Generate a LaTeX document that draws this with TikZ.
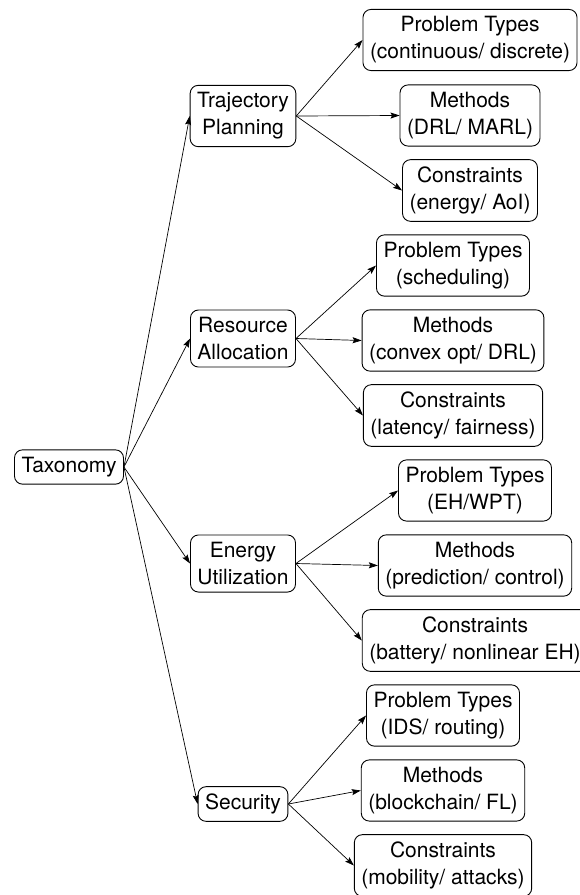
\documentclass[tikz,border=0pt]{standalone}
\usepackage{fontspec}
\setmainfont{TeX Gyre Heros}
\usetikzlibrary{arrows.meta}
\begin{document}
\begin{tikzpicture}[x=1pt,y=-1pt,
  box/.style={draw, rounded corners=8pt, line width=0.9pt, align=center,
    inner xsep=7pt, inner ysep=7.2pt, font=\fontsize{21}{27}\selectfont},
  link/.style={-{Stealth[length=9pt,width=6pt,inset=1.5pt]}, line width=0.7pt}]
\useasboundingbox (0,0) rectangle (580,895);

% root and first level
\node[box] (tax)  at (69,467)    {Taxonomy};
\node[box] (traj) at (243,116)   {Trajectory\\Planning};
\node[box] (res)  at (243,338.5) {Resource\\Allocation};
\node[box] (ene)  at (243,563.5) {Energy\\Utilization};
\node[box] (sec)  at (243,804)   {Security};

% trajectory planning
\node[box] (trajP) at (470,40)    {Problem Types\\(continuous/ discrete)};
\node[box] (trajM) at (470,115.5) {Methods\\(DRL/ MARL)};
\node[box] (trajC) at (470,190.5) {Constraints\\(energy/ AoI)};

% resource allocation
\node[box] (resP) at (453,265.5) {Problem Types\\(scheduling)};
\node[box] (resM) at (453,340.5) {Methods\\(convex opt/ DRL)};
\node[box] (resC) at (453,415.5) {Constraints\\(latency/ fairness)};

% energy utilization
\node[box] (eneP) at (475,490.5) {Problem Types\\(EH/WPT)};
\node[box] (eneM) at (475,565.5) {Methods\\(prediction/ control)};
\node[box] (eneC) at (475,640.5) {Constraints\\(battery/ nonlinear EH)};

% security
\node[box] (secP) at (443,715.5) {Problem Types\\(IDS/ routing)};
\node[box] (secM) at (443,790.5) {Methods\\(blockchain/ FL)};
\node[box] (secC) at (443,865.5) {Constraints\\(mobility/ attacks)};

% connectors
\foreach \c in {traj,res,ene,sec}
  \draw[link] (tax.east) -- (\c.west);
\foreach \p in {traj,res,ene,sec}
  \foreach \k in {P,M,C}
    \draw[link] (\p.east) -- (\p\k.west);
\end{tikzpicture}
\end{document}
